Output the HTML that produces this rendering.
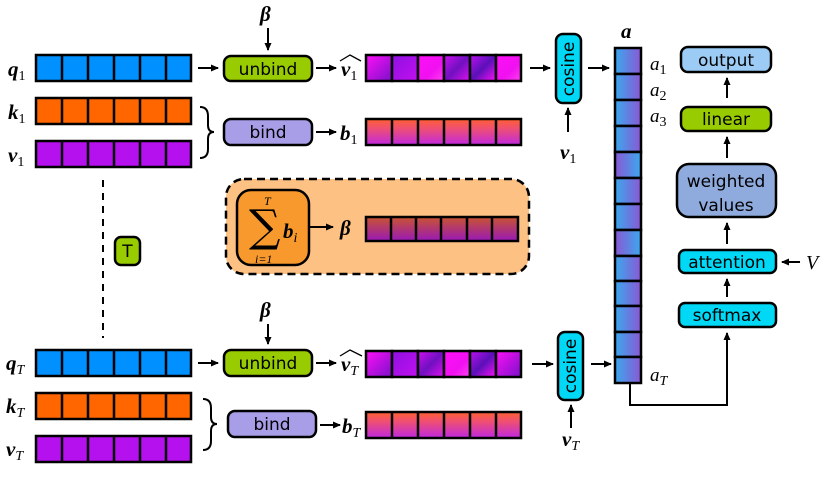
<!DOCTYPE html>
<html><head><meta charset="utf-8"><style>
html,body{margin:0;padding:0;background:#fff;width:830px;height:491px;overflow:hidden}
.t{font-family:"DejaVu Sans","Liberation Sans",sans-serif;font-size:17px}
.m{font-family:"Liberation Serif","DejaVu Serif",serif;font-style:italic;font-weight:bold;font-size:21px}
.mi{font-family:"Liberation Serif","DejaVu Serif",serif;font-style:italic;font-size:19px}
.s{font-size:14px;font-weight:normal;font-style:normal}
</style></head><body>
<svg width="830" height="491" viewBox="0 0 830 491" xmlns="http://www.w3.org/2000/svg">
<defs>
<marker id="ar" markerWidth="8" markerHeight="8" refX="7" refY="4" orient="auto" markerUnits="userSpaceOnUse"><path d="M0,0.5 L8,4 L0,7.5 z" fill="#000"/></marker>
<linearGradient id="gb" x1="0" y1="0" x2="0" y2="1"><stop offset="0" stop-color="#ff6030"/><stop offset="0.35" stop-color="#f05070"/><stop offset="1" stop-color="#c028e0"/></linearGradient>
<linearGradient id="gbeta" x1="0" y1="0" x2="0" y2="1"><stop offset="0" stop-color="#c85430"/><stop offset="1" stop-color="#9a18b8"/></linearGradient>
<linearGradient id="ga1" x1="0" y1="0" x2="1" y2="0"><stop offset="0" stop-color="#3aa8ee"/><stop offset="1" stop-color="#8a58d4"/></linearGradient>
<linearGradient id="ga2" x1="0" y1="0" x2="1" y2="0"><stop offset="0" stop-color="#8a58d4"/><stop offset="1" stop-color="#3aa8ee"/></linearGradient>
<linearGradient id="gv1" x1="0" y1="0" x2="1" y2="1"><stop offset="0" stop-color="#ff10f8"/><stop offset="1" stop-color="#7a10c8"/></linearGradient>
<linearGradient id="gv2" x1="0" y1="0" x2="1" y2="1"><stop offset="0" stop-color="#9010e0"/><stop offset="1" stop-color="#c010f0"/></linearGradient>
<linearGradient id="gv3" x1="0" y1="0" x2="1" y2="1"><stop offset="0" stop-color="#d010f0"/><stop offset="0.5" stop-color="#7010c0"/><stop offset="1" stop-color="#e010f0"/></linearGradient>
<linearGradient id="gv4" x1="0" y1="0" x2="1" y2="1"><stop offset="0" stop-color="#c010f0"/><stop offset="0.5" stop-color="#5a10b8"/><stop offset="1" stop-color="#ff10f8"/></linearGradient>
<linearGradient id="gv5" x1="0" y1="0" x2="1" y2="1"><stop offset="0" stop-color="#ff10f8"/><stop offset="0.6" stop-color="#f010f0"/><stop offset="1" stop-color="#ff40f0"/></linearGradient>
</defs>

<g stroke="#000" stroke-width="2.5">
<rect x="36" y="55" width="155" height="26" fill="#0090ff"/>
<rect x="36" y="98" width="155" height="26" fill="#ff6600"/>
<rect x="36" y="141" width="155" height="26" fill="#b510ee"/>
<rect x="36" y="350" width="155" height="26" fill="#0090ff"/>
<rect x="36" y="393" width="155" height="26" fill="#ff6600"/>
<rect x="36" y="436" width="155" height="26" fill="#b510ee"/>
<rect x="366" y="55" width="26" height="26" fill="url(#gv1)"/><rect x="392" y="55" width="26" height="26" fill="url(#gv2)"/><rect x="418" y="55" width="26" height="26" fill="url(#gv5)"/><rect x="444" y="55" width="26" height="26" fill="url(#gv3)"/><rect x="470" y="55" width="26" height="26" fill="url(#gv4)"/><rect x="496" y="55" width="25" height="26" fill="url(#gv5)"/>
<rect x="366" y="351" width="26" height="26" fill="url(#gv1)"/><rect x="392" y="351" width="26" height="26" fill="url(#gv2)"/><rect x="418" y="351" width="26" height="26" fill="url(#gv3)"/><rect x="444" y="351" width="26" height="26" fill="url(#gv5)"/><rect x="470" y="351" width="26" height="26" fill="url(#gv4)"/><rect x="496" y="351" width="25" height="26" fill="url(#gv1)"/>
<rect x="366" y="119" width="155" height="26" fill="url(#gb)"/>
<rect x="366" y="412" width="155" height="26" fill="url(#gb)"/>
</g>

<rect x="226" y="179" width="303" height="95" rx="18" fill="#fdc283" stroke="#000" stroke-width="2.5" stroke-dasharray="8,5"/>
<rect x="237" y="190" width="72" height="75" rx="14" fill="#f8992e" stroke="#000" stroke-width="2.5"/>
<rect x="366" y="217" width="152" height="24" fill="url(#gbeta)" stroke="#000" stroke-width="2.5"/>

<g stroke="#000" stroke-width="2.5">
<path d="M62,55v26M88,55v26M114,55v26M140,55v26M166,55v26"/>
<path d="M62,98v26M88,98v26M114,98v26M140,98v26M166,98v26"/>
<path d="M62,141v26M88,141v26M114,141v26M140,141v26M166,141v26"/>
<path d="M62,350v26M88,350v26M114,350v26M140,350v26M166,350v26"/>
<path d="M62,393v26M88,393v26M114,393v26M140,393v26M166,393v26"/>
<path d="M62,436v26M88,436v26M114,436v26M140,436v26M166,436v26"/>
<path d="M392,119v26M418,119v26M444,119v26M470,119v26M496,119v26"/>
<path d="M392,412v26M418,412v26M444,412v26M470,412v26M496,412v26"/>
<path d="M391,217v24M416,217v24M441,217v24M467,217v24M492,217v24"/>
</g>

<g stroke="#000" stroke-width="2.5">
<rect x="615" y="48" width="26" height="26" fill="url(#ga1)"/><rect x="615" y="74" width="26" height="26" fill="url(#ga1)"/><rect x="615" y="100" width="26" height="26" fill="url(#ga1)"/><rect x="615" y="126" width="26" height="26" fill="url(#ga1)"/><rect x="615" y="152" width="26" height="26" fill="url(#ga2)"/><rect x="615" y="178" width="26" height="26" fill="url(#ga1)"/><rect x="615" y="204" width="26" height="26" fill="url(#ga1)"/><rect x="615" y="230" width="26" height="26" fill="url(#ga2)"/><rect x="615" y="256" width="26" height="25" fill="url(#ga1)"/><rect x="615" y="281" width="26" height="25" fill="url(#ga1)"/><rect x="615" y="306" width="26" height="26" fill="url(#ga1)"/><rect x="615" y="332" width="26" height="25" fill="url(#ga1)"/><rect x="615" y="357" width="26" height="26" fill="url(#ga1)"/>
</g>

<g stroke="#000" stroke-width="2.5">
<rect x="224" y="56" width="88" height="25" rx="7" fill="#99cc00"/>
<rect x="224" y="119" width="88" height="26" rx="7" fill="#a89ee8"/>
<rect x="224" y="350" width="88" height="26" rx="7" fill="#99cc00"/>
<rect x="228" y="411" width="88" height="26" rx="7" fill="#a89ee8"/>
<rect x="115" y="237" width="25" height="28" rx="6" fill="#99cc00"/>
<rect x="556" y="34" width="25" height="69" rx="7" fill="#00d8f5"/>
<rect x="558" y="332" width="25" height="68" rx="7" fill="#00d8f5"/>
<rect x="681" y="47" width="90" height="25" rx="7" fill="#9cccf5"/>
<rect x="681" y="107" width="90" height="24" rx="7" fill="#99cc00"/>
<rect x="677" y="164" width="99" height="53" rx="12" fill="#8faadc"/>
<rect x="679" y="250" width="97" height="23" rx="6" fill="#00d8f5"/>
<rect x="679" y="303" width="97" height="24" rx="6" fill="#00d8f5"/>
</g>

<g class="t" text-anchor="middle" fill="#000">
<text x="268" y="75">unbind</text>
<text x="268" y="138">bind</text>
<text x="268" y="369">unbind</text>
<text x="272" y="430">bind</text>
<text x="127.5" y="257">T</text>
<text x="726" y="66">output</text>
<text x="726" y="125">linear</text>
<text x="726" y="187">weighted</text>
<text x="726" y="211">values</text>
<text x="727" y="268">attention</text>
<text x="727" y="321">softmax</text>
<text transform="translate(574,69) rotate(-90)">cosine</text>
<text transform="translate(576,366) rotate(-90)">cosine</text>
</g>

<g stroke="#000" stroke-width="2" fill="none" marker-end="url(#ar)">
<path d="M198,68H218"/>
<path d="M316,68H336"/>
<path d="M268,28V50"/>
<path d="M316,132H336"/>
<path d="M530,68H550"/>
<path d="M588,68H609"/>
<path d="M568,132V108"/>
<path d="M310,227H333"/>
<path d="M198,363H218"/>
<path d="M316,363H336"/>
<path d="M268,324V344"/>
<path d="M320,425H340"/>
<path d="M532,364H553"/>
<path d="M591,364H611"/>
<path d="M571,428V405"/>
<path d="M727,98V78"/>
<path d="M727,158V137"/>
<path d="M727,244V223"/>
<path d="M727,297V279"/>
<path d="M630,384V405H727V333"/>
<path d="M800,262H782"/>
</g>
<path d="M103,180V338" stroke="#000" stroke-width="2" stroke-dasharray="7,6"/>
<g stroke="#000" stroke-width="2" fill="none">
<path d="M200,107 Q208,107 208,116 V125 Q208,132 214,132 Q208,132 208,139 V149 Q208,158 200,158"/>
<path d="M203,399 Q211,399 211,408 V417 Q211,424 217,424 Q211,424 211,431 V441 Q211,450 203,450"/>
</g>

<g fill="#000">
<text class="m" x="8" y="76">q<tspan class="s" dy="4">1</tspan></text>
<text class="m" x="8" y="119">k<tspan class="s" dy="4">1</tspan></text>
<text class="m" x="8" y="162">v<tspan class="s" dy="4">1</tspan></text>
<text class="m" x="6" y="370">q<tspan class="s" dy="4" style="font-style:italic">T</tspan></text>
<text class="m" x="6" y="413">k<tspan class="s" dy="4" style="font-style:italic">T</tspan></text>
<text class="m" x="6" y="456">v<tspan class="s" dy="4" style="font-style:italic">T</tspan></text>
<text class="m" x="260" y="21">β</text>
<text class="m" x="260" y="317">β</text>
<text class="m" x="341" y="76">v<tspan class="s" dy="4">1</tspan></text>
<path d="M340,61 L350,55 L361,61" stroke="#000" stroke-width="1.3" fill="none"/>
<text class="m" x="341" y="371">v<tspan class="s" dy="4" style="font-style:italic">T</tspan></text>
<path d="M340,356 L350,350 L362,356" stroke="#000" stroke-width="1.3" fill="none"/>
<text class="m" x="340" y="140">b<tspan class="s" dy="4">1</tspan></text>
<text class="m" x="342" y="433">b<tspan class="s" dy="4" style="font-style:italic">T</tspan></text>
<text class="m" x="340" y="235">β</text>
<text class="m" x="560" y="159">v<tspan class="s" dy="4">1</tspan></text>
<text class="m" x="562" y="446">v<tspan class="s" dy="4" style="font-style:italic">T</tspan></text>
<text class="m" x="621" y="38">a</text>
<text class="mi" x="650" y="70">a<tspan class="s" dy="4">1</tspan></text>
<text class="mi" x="650" y="96">a<tspan class="s" dy="4">2</tspan></text>
<text class="mi" x="650" y="122">a<tspan class="s" dy="4">3</tspan></text>
<text class="mi" x="650" y="381">a<tspan class="s" dy="4" style="font-style:italic">T</tspan></text>
<text class="mi" x="806" y="269" style="font-size:20px">V</text>
<text x="249" y="241" style="font-family:'DejaVu Serif',serif;font-size:44px">∑</text>
<text class="mi" x="264" y="205" style="font-size:12px">T</text>
<text class="mi" x="255" y="263" style="font-size:12px">i=1</text>
<text class="m" x="283" y="238">b<tspan class="s" dy="4" style="font-style:italic">i</tspan></text>
</g>
</svg>
</body></html>
